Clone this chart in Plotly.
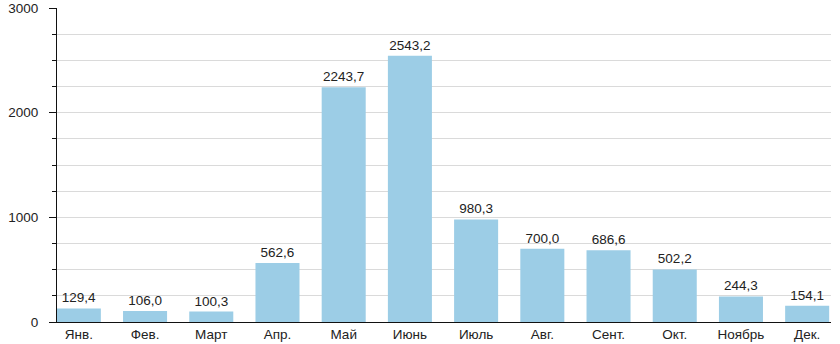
import plotly.graph_objects as go

months = ["Янв.", "Фев.", "Март", "Апр.", "Май", "Июнь", "Июль", "Авг.", "Сент.", "Окт.", "Ноябрь", "Дек."]
values = [129.4, 106.0, 100.3, 562.6, 2243.7, 2543.2, 980.3, 700.0, 686.6, 502.2, 244.3, 154.1]
y_ticks = [0, 1000, 2000, 3000]

labels = [f"{v:.1f}".replace(".", ",") for v in values]

fig = go.Figure(go.Bar(
    x=list(range(len(months))),
    y=values,
    text=labels,
    textposition="outside",
    textfont=dict(size=13.5, color="#222222"),
    marker=dict(color="#9ccde6", line=dict(width=0)),
    cliponaxis=False,
    hoverinfo="skip",
))

fig.update_layout(
    width=840, height=344,
    margin=dict(l=57, r=9, t=8, b=22, autoexpand=False),
    paper_bgcolor="white", plot_bgcolor="white",
    bargap=0.335,
    font=dict(family="Liberation Sans, Arial, sans-serif", size=13.5, color="#222222"),
    showlegend=False,
)
fig.update_xaxes(
    range=[-0.33, 11.36], automargin=False,
    tickmode="array", tickvals=list(range(len(months))), ticktext=months,
    showline=True, linecolor="#111111", linewidth=1,
    showgrid=False, zeroline=False, ticks="",
    tickfont=dict(size=13.5, color="#222222"),
)
fig.update_yaxes(
    range=[0, 3000], automargin=False,
    tickmode="array", tickvals=y_ticks, tickformat="d",
    showline=True, linecolor="#111111", linewidth=1,
    ticks="outside", ticklen=7, tickcolor="#111111",
    ticklabelstandoff=8,
    showgrid=True, gridcolor="#dadada", gridwidth=1,
    zeroline=False,
    minor=dict(dtick=250, tick0=0, ticks="outside", ticklen=4, tickcolor="#111111",
               showgrid=True, gridcolor="#dadada", gridwidth=1),
    tickfont=dict(size=13.5, color="#222222"),
)

fig.write_html("out.html",
               config={"displayModeBar": False, "staticPlot": True},
               post_script="document.body.style.margin='0';document.body.style.padding='0';document.body.style.overflow='hidden';")
